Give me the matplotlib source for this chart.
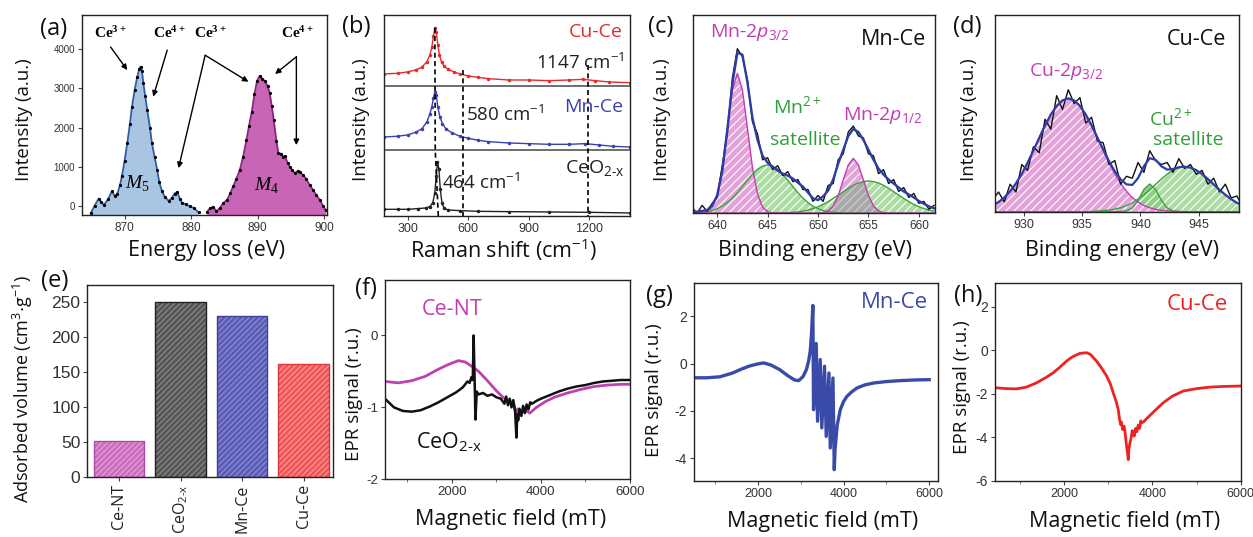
import matplotlib
matplotlib.use('Agg')
import matplotlib.pyplot as plt
import numpy as np

# ---------------- data ----------------
# (a) EELS Ce M5 / M4 edges
m5_ev = [864.9, 865.5, 866.1, 866.5, 866.9, 867.5, 868.1, 868.5, 868.9, 869.3, 869.6, 870.0, 870.4, 870.8,
         871.1, 871.5, 871.9, 872.2, 872.4, 872.6, 872.8, 873.1, 873.4, 873.8, 874.1, 874.5, 874.9, 875.2,
         875.6, 876.0, 876.6, 877.1, 877.5, 877.9, 878.3, 878.6, 879.2, 879.8, 880.4, 881.1]
m5_cnt = [-200, 0, 180, 90, 20, 160, 370, 250, 300, 520, 760, 1150, 1600, 2100,
          2530, 2950, 3300, 3500, 3560, 3450, 3150, 2800, 2450, 2000, 1600, 1250, 910, 600,
          380, 230, 120, 200, 310, 350, 180, 80, 30, -20, -60, -170]
m4_ev = [882.4, 882.8, 883.3, 883.8, 884.3, 884.8, 885.4, 885.9, 886.3, 886.8, 887.3, 887.8, 888.3, 888.7,
         889.1, 889.5, 889.9, 890.3, 890.7, 891.1, 891.5, 891.8, 892.1, 892.4, 892.8, 893.1, 893.5, 893.8,
         894.1, 894.5, 894.8, 895.2, 895.6, 896.0, 896.3, 896.8, 897.3, 897.8, 898.3, 898.8, 899.3, 899.8, 900.2]
m4_cnt = [-160, -70, -30, -150, -60, 60, 150, 330, 490, 690, 910, 1250, 1680, 2050,
          2400, 2850, 3200, 3320, 3250, 3180, 3050, 2880, 2550, 2200, 1650, 1350, 1330, 1250,
          1270, 1080, 1000, 900, 830, 890, 870, 780, 680, 520, 400, 270, 150, 0, -120]

# (b) Raman spectra (stacked, as displayed)
cu_raman_x = [185, 250, 300, 340, 370, 395, 410, 420, 428, 435, 442, 450, 458, 468, 480, 500, 530, 560,
              600, 650, 700, 800, 900, 1000, 1100, 1170, 1230, 1300, 1400]
cu_raman_y = [2.12, 2.13, 2.15, 2.18, 2.22, 2.30, 2.40, 2.52, 2.68, 2.81, 2.74, 2.55, 2.40, 2.30, 2.24, 2.19,
              2.15, 2.12, 2.09, 2.07, 2.05, 2.03, 2.03, 2.02, 2.03, 2.04, 2.02, 2.00, 1.99]
mn_raman_x = [185, 250, 300, 340, 370, 395, 410, 420, 428, 435, 442, 450, 460, 472, 490, 520, 560, 600,
              650, 700, 800, 900, 1000, 1100, 1180, 1250, 1320, 1400]
mn_raman_y = [1.18, 1.19, 1.21, 1.25, 1.30, 1.40, 1.52, 1.63, 1.76, 1.85, 1.80, 1.62, 1.48, 1.38, 1.30, 1.24,
              1.19, 1.16, 1.13, 1.11, 1.09, 1.08, 1.07, 1.07, 1.08, 1.06, 1.04, 1.03]
ce_raman_x = [185, 250, 300, 350, 390, 410, 425, 435, 442, 448, 455, 462, 470, 480, 500, 560, 650, 800,
              1000, 1200, 1400]
ce_raman_y = [0.10, 0.10, 0.10, 0.11, 0.12, 0.14, 0.20, 0.35, 0.60, 0.81, 0.70, 0.40, 0.20, 0.12, 0.09, 0.08,
              0.07, 0.065, 0.06, 0.055, 0.045]

# (c) Mn 2p XPS
be_c = [637.5, 638.0, 638.5, 639.0, 639.5, 640.0, 640.5, 641.0, 641.5, 642.0,
        642.5, 643.0, 643.5, 644.0, 644.5, 645.0, 645.5, 646.0, 646.5, 647.0,
        647.5, 648.0, 648.5, 649.0, 649.5, 650.0, 650.5, 651.0, 651.5, 652.0,
        652.5, 653.0, 653.5, 654.0, 654.5, 655.0, 655.5, 656.0, 656.5, 657.0,
        657.5, 658.0, 658.5, 659.0, 659.5, 660.0, 660.5, 661.0, 661.5]
mn_p32 = [0, 0, 0.002, 0.008, 0.031, 0.096, 0.229, 0.428, 0.623, 0.706,
          0.623, 0.428, 0.229, 0.096, 0.031, 0.008, 0.002, 0, 0, 0,
          0, 0, 0, 0, 0, 0, 0, 0, 0, 0,
          0, 0, 0, 0, 0, 0, 0, 0, 0, 0,
          0, 0, 0, 0, 0, 0, 0, 0, 0]
mn_sat1 = [0.001, 0.002, 0.005, 0.008, 0.014, 0.023, 0.036, 0.054, 0.077, 0.104,
           0.135, 0.167, 0.197, 0.222, 0.238, 0.244, 0.238, 0.222, 0.197, 0.167,
           0.135, 0.104, 0.077, 0.054, 0.036, 0.023, 0.014, 0.008, 0.005, 0.002,
           0.001, 0, 0, 0, 0, 0, 0, 0, 0, 0,
           0, 0, 0, 0, 0, 0, 0, 0, 0]
mn_p12 = [0, 0, 0, 0, 0, 0, 0, 0, 0, 0,
          0, 0, 0, 0, 0, 0, 0, 0, 0, 0,
          0, 0, 0, 0, 0, 0, 0.003, 0.012, 0.037, 0.090,
          0.168, 0.244, 0.277, 0.244, 0.168, 0.090, 0.037, 0.012, 0.003, 0,
          0, 0, 0, 0, 0, 0, 0, 0, 0]
mn_sat2 = [0, 0, 0, 0, 0, 0, 0, 0, 0, 0,
           0, 0, 0, 0, 0, 0, 0, 0.001, 0.002, 0.003,
           0.005, 0.007, 0.011, 0.016, 0.024, 0.033, 0.045, 0.059, 0.075, 0.092,
           0.109, 0.126, 0.141, 0.153, 0.160, 0.163, 0.160, 0.153, 0.141, 0.126,
           0.109, 0.092, 0.075, 0.059, 0.045, 0.033, 0.024, 0.016, 0.011]
mn_fit = [0.005, 0.008, 0.012, 0.016, 0.04, 0.09, 0.21, 0.42, 0.65, 0.81,
          0.80, 0.66, 0.48, 0.37, 0.29, 0.255, 0.235, 0.215, 0.20, 0.19,
          0.175, 0.155, 0.134, 0.105, 0.075, 0.067, 0.085, 0.115, 0.17, 0.25,
          0.32, 0.39, 0.425, 0.41, 0.37, 0.32, 0.27, 0.225, 0.195, 0.17,
          0.15, 0.13, 0.11, 0.095, 0.08, 0.062, 0.048, 0.035, 0.025]
mn_raw = [0.03, 0.0, 0.04, 0.01, 0.05, 0.08, 0.24, 0.40, 0.68, 0.83,
          0.79, 0.67, 0.46, 0.40, 0.27, 0.28, 0.22, 0.24, 0.19, 0.21,
          0.16, 0.17, 0.12, 0.12, 0.06, 0.09, 0.06, 0.14, 0.15, 0.27,
          0.30, 0.41, 0.44, 0.39, 0.38, 0.30, 0.29, 0.20, 0.22, 0.15,
          0.17, 0.11, 0.13, 0.08, 0.10, 0.05, 0.06, 0.02, 0.04]

# (d) Cu 2p XPS
be_d = [927.3, 927.8, 928.3, 928.8, 929.3, 929.8, 930.3, 930.8, 931.3, 931.8,
        932.3, 932.8, 933.3, 933.8, 934.3, 934.8, 935.3, 935.8, 936.3, 936.8,
        937.3, 937.8, 938.3, 938.8, 939.3, 939.8, 940.3, 940.8, 941.3, 941.8,
        942.3, 942.8, 943.3, 943.8, 944.3, 944.8, 945.3, 945.8, 946.3, 946.8,
        947.3, 947.8, 948.3, 948.8]
cu_p32 = [0.032, 0.049, 0.072, 0.104, 0.144, 0.192, 0.249, 0.311, 0.375, 0.438,
          0.494, 0.538, 0.566, 0.576, 0.566, 0.538, 0.494, 0.438, 0.375, 0.311,
          0.249, 0.192, 0.144, 0.104, 0.072, 0.049, 0.032, 0.020, 0.012, 0.007,
          0.004, 0.002, 0.001, 0, 0, 0, 0, 0, 0, 0,
          0, 0, 0, 0]
cu_sat1 = [0, 0, 0, 0, 0, 0, 0, 0, 0, 0,
           0, 0, 0, 0, 0, 0, 0, 0, 0, 0,
           0, 0, 0.001, 0.004, 0.019, 0.058, 0.113, 0.141, 0.113, 0.058,
           0.019, 0.004, 0.001, 0, 0, 0, 0, 0, 0, 0,
           0, 0, 0, 0]
cu_sat2 = [0, 0, 0, 0, 0, 0, 0, 0, 0, 0,
           0, 0, 0, 0, 0, 0, 0, 0.001, 0.003, 0.005,
           0.008, 0.013, 0.020, 0.031, 0.045, 0.064, 0.086, 0.111, 0.139, 0.166,
           0.191, 0.211, 0.224, 0.229, 0.224, 0.211, 0.191, 0.166, 0.139, 0.111,
           0.086, 0.064, 0.045, 0.031]
cu_fit = [0.032, 0.049, 0.072, 0.104, 0.144, 0.192, 0.249, 0.311, 0.375, 0.438,
          0.494, 0.538, 0.566, 0.576, 0.566, 0.538, 0.494, 0.439, 0.378, 0.316,
          0.257, 0.205, 0.165, 0.139, 0.136, 0.171, 0.231, 0.272, 0.264, 0.231,
          0.214, 0.217, 0.226, 0.229, 0.224, 0.211, 0.191, 0.166, 0.139, 0.111,
          0.086, 0.064, 0.045, 0.031]
cu_raw = [0.06, 0.10, 0.05, 0.14, 0.10, 0.24, 0.21, 0.33, 0.30, 0.47,
          0.42, 0.59, 0.52, 0.62, 0.55, 0.58, 0.45, 0.48, 0.36, 0.35,
          0.24, 0.26, 0.14, 0.18, 0.17, 0.25, 0.20, 0.31, 0.26, 0.24,
          0.25, 0.20, 0.27, 0.22, 0.24, 0.19, 0.21, 0.14, 0.17, 0.10,
          0.14, 0.07, 0.08, 0.02]

# (e) adsorbed volume
samples = ['Ce-NT', 'CeO$_{2‐\\mathrm{x}}$', 'Mn-Ce', 'Cu-Ce']
adsorbed = [52, 251, 230, 162]

# (f) EPR Ce-NT and CeO2-x
cent_field = [500, 800, 1100, 1400, 1700, 1900, 2150, 2300, 2450, 2600, 2800, 3000, 3150, 3300, 3400,
              3450, 3480, 3550, 3650, 3750, 3900, 4100, 4300, 4600, 4900, 5200, 5500, 5800, 6000]
cent_sig = [-0.64, -0.66, -0.63, -0.57, -0.47, -0.41, -0.35, -0.37, -0.43, -0.50, -0.63, -0.77, -0.86,
            -0.93, -0.98, -1.12, -1.02, -1.08, -1.04, -1.08, -1.00, -0.92, -0.86, -0.80, -0.75, -0.71,
            -0.69, -0.68, -0.68]
ceo_field = [500, 700, 900, 1100, 1300, 1500, 1700, 1900, 2100, 2250, 2350, 2400, 2440, 2470, 2490, 2510,
             2530, 2560, 2600, 2700, 2800, 2900, 3000, 3100, 3180, 3220, 3260, 3300, 3340, 3380, 3420,
             3450, 3470, 3490, 3520, 3560, 3600, 3640, 3680, 3720, 3760, 3800, 3900, 4000, 4200, 4400,
             4600, 4800, 5000, 5200, 5400, 5600, 5800, 6000]
ceo_sig = [-0.88, -1.00, -1.05, -1.06, -1.04, -0.99, -0.93, -0.86, -0.79, -0.72, -0.64, -0.66, -0.58,
           -0.62, 0.0, -0.55, -1.17, -0.78, -0.82, -0.80, -0.84, -0.82, -0.86, -0.88, -0.95, -0.85,
           -0.97, -0.88, -1.00, -0.90, -1.05, -1.42, -1.10, -1.18, -1.02, -1.12, -0.98, -1.08, -0.96,
           -1.03, -0.93, -0.95, -0.91, -0.88, -0.83, -0.78, -0.74, -0.71, -0.69, -0.66, -0.64, -0.63,
           -0.62, -0.62]

# (g) EPR Mn-Ce
mnce_field = [500, 800, 1100, 1400, 1600, 1800, 2000, 2130, 2300, 2500, 2700, 2850, 2950, 3050, 3130,
              3180, 3220, 3250, 3280, 3296, 3358, 3390, 3452, 3490, 3553, 3593, 3656, 3687, 3750, 3781,
              3800, 3850, 3922, 4000, 4080, 4200, 4315, 4500, 4706, 5000, 5334, 5700, 6000]
mnce_sig = [-0.60, -0.60, -0.56, -0.40, -0.24, -0.10, -0.01, 0.03, -0.06, -0.25, -0.52, -0.69, -0.72,
            -0.55, -0.25, 0.10, 0.55, 1.30, 2.46, -1.95, 0.85, -2.44, 0.17, -2.72, -0.11, -3.08, -0.40,
            -3.57, -0.61, -4.49, -3.60, -2.60, -1.95, -1.60, -1.38, -1.18, -1.03, -0.90, -0.82, -0.76,
            -0.72, -0.69, -0.68]

# (h) EPR Cu-Ce
cuce_field = [440, 700, 930, 1150, 1382, 1600, 1758, 1900, 2061, 2200, 2362, 2513, 2600, 2740, 2850,
              2966, 3050, 3115, 3180, 3229, 3260, 3282, 3300, 3330, 3360, 3380, 3400, 3418, 3440, 3455,
              3470, 3493, 3520, 3545, 3568, 3590, 3620, 3650, 3680, 3710, 3740, 3758, 3800, 3870, 3946,
              4100, 4247, 4450, 4699, 5000, 5303, 5600, 6000]
cuce_sig = [-1.73, -1.77, -1.78, -1.70, -1.50, -1.25, -1.04, -0.80, -0.50, -0.30, -0.15, -0.12, -0.20,
            -0.51, -0.82, -1.19, -1.55, -1.96, -2.35, -2.73, -3.20, -3.42, -3.30, -3.65, -3.50, -3.72,
            -4.10, -4.41, -4.75, -5.03, -4.55, -4.26, -4.05, -3.70, -3.80, -3.95, -3.60, -3.75, -3.45,
            -3.60, -3.25, -3.34, -3.30, -3.15, -3.00, -2.70, -2.42, -2.12, -1.88, -1.77, -1.70, -1.67,
            -1.65]

# ---------------- style ----------------
W, H = 1253, 537
plt.rcParams['font.family'] = ['Open Sans', 'DejaVu Sans']
plt.rcParams['axes.unicode_minus'] = False
plt.rcParams['mathtext.fontset'] = 'custom'
plt.rcParams['mathtext.rm'] = 'Open Sans'
plt.rcParams['mathtext.it'] = 'Open Sans:italic'
plt.rcParams['mathtext.bf'] = 'Liberation Serif:bold'
plt.rcParams['mathtext.cal'] = 'Liberation Serif:italic'
plt.rcParams['mathtext.tt'] = 'Liberation Serif'
plt.rcParams['mathtext.fallback'] = 'stixsans'
plt.rcParams['hatch.linewidth'] = 0.8

fig = plt.figure(figsize=(W / 100, H / 100), dpi=100)


def add_ax(l, r, t, b):
    return fig.add_axes([l / W, 1 - b / H, (r - l) / W, (b - t) / H])


def ftext(px, py, s, **kw):
    kw.setdefault('ha', 'center')
    kw.setdefault('va', 'center')
    fig.text(px / W, 1 - py / H, s, **kw)


def style(ax, fsx=9, fsy=9):
    for s in ax.spines.values():
        s.set_linewidth(1.0)
        s.set_color('#222222')
    ax.tick_params(direction='out', length=3, width=0.8, color='#444444',
                   labelcolor='#333333', pad=2, labelfontfamily='Liberation Sans')
    ax.tick_params(axis='x', labelsize=fsx)
    ax.tick_params(axis='y', labelsize=fsy)


XL = 15.5   # x-label size
YL = 13.5   # y-label size
PL = 17     # panel letter size
CEOX = 'CeO$_{2‐\\mathrm{x}}$'

PINK_F, PINK_L = '#e3a3da', '#c23cb2'
GREEN_F, GREEN_L = '#acdca4', '#3aa33a'
FIT = '#2c3ea6'

# ---------------- (a) ----------------
axA = add_ax(82, 327, 15, 215)
axA.fill_between(m5_ev, m5_cnt, -240, color='#a9c5e2', lw=0)
axA.plot(m5_ev, m5_cnt, color='#2e5ea6', lw=1.3)
axA.plot(m5_ev, m5_cnt, ls='none', marker='o', ms=1.3, color='k')
axA.fill_between(m4_ev, m4_cnt, -240, color='#c865b6', lw=0)
axA.plot(m4_ev, m4_cnt, color='#86267f', lw=1.3)
axA.plot(m4_ev, m4_cnt, ls='none', marker='o', ms=1.3, color='k')
axA.set_xlim(863.6, 900.4)
axA.set_ylim(-240, 4880)
axA.set_xticks([870, 880, 890, 900])
axA.set_yticks([0, 1000, 2000, 3000, 4000])
style(axA, 8.5, 7)

ap = dict(arrowstyle='-|>', color='k', lw=1.0, mutation_scale=8, shrinkA=0, shrinkB=0)
for start, end in [((867.9, 4060), (870.4, 3470)), ((876.4, 3980), (874.3, 2790)),
                   ((882.1, 3850), (888.6, 3170)), ((882.1, 3850), (878.1, 960)),
                   ((895.8, 3810), (892.6, 3370)), ((895.8, 3810), (895.8, 1550))]:
    axA.annotate('', xy=end, xytext=start, arrowprops=ap)
for xt, s in [(867.9, '$\\mathbf{Ce^{3+}}$'), (876.7, '$\\mathbf{Ce^{4+}}$'),
              (882.9, '$\\mathbf{Ce^{3+}}$'), (895.9, '$\\mathbf{Ce^{4+}}$')]:
    axA.text(xt, 4390, s, ha='center', va='center', fontsize=11)
axA.text(872.0, 580, '$\\mathcal{M}_{\\mathtt{5}}$', ha='center', va='center', fontsize=14)
axA.text(891.3, 530, '$\\mathcal{M}_{\\mathtt{4}}$', ha='center', va='center', fontsize=14)

# ---------------- (b) ----------------
axB = add_ax(384, 630, 15, 216)
axB.plot(cu_raman_x, cu_raman_y, color='#e52b2b', lw=1.0, marker='o', ms=1.5)
axB.plot(mn_raman_x, mn_raman_y, color='#3b3fb0', lw=1.0, marker='o', ms=1.5)
axB.plot(ce_raman_x, ce_raman_y, color='#222222', lw=1.0, marker='o', ms=1.5)
axB.axhline(0.985, color='#555555', lw=1.2)
axB.axhline(1.94, color='#555555', lw=1.2)
axB.plot([435, 437, 452], [2.81, 0.98, 0.0], ls='--', color='k', lw=1.2, dashes=(3, 2))
axB.plot([573, 573], [2.18, 0.0], ls='--', color='k', lw=1.2, dashes=(3, 2))
axB.plot([1192, 1192], [2.25, 0.0], ls='--', color='k', lw=1.2, dashes=(3, 2))
axB.set_xlim(183, 1402)
axB.set_ylim(0, 3)
axB.set_xticks([300, 600, 900, 1200])
axB.set_yticks([])
style(axB, 9, 9)
axB.text(1367, 2.75, 'Cu-Ce', color='#e52b2b', ha='right', va='center', fontsize=14)
axB.text(1375, 2.28, '1147 cm$^{-1}$', color='#222222', ha='right', va='center', fontsize=13.5)
axB.text(1367, 1.62, 'Mn-Ce', color='#3b3fb0', ha='right', va='center', fontsize=14)
axB.text(588, 1.51, '580 cm$^{-1}$', color='#222222', ha='left', va='center', fontsize=13.5)
axB.text(1375, 0.72, CEOX, color='#222222', ha='right', va='center', fontsize=14)
axB.text(472, 0.50, '464 cm$^{-1}$', color='#222222', ha='left', va='center', fontsize=13.5)

# ---------------- (c) ----------------
axC = add_ax(693, 935, 15, 213.3)
axC.fill_between(be_c, mn_sat1, 0, facecolor=GREEN_F, edgecolor='white', hatch='////', lw=0)
axC.fill_between(be_c, mn_sat2, 0, facecolor=GREEN_F, edgecolor='white', hatch='////', lw=0)
axC.fill_between(be_c, mn_p32, 0, facecolor=PINK_F, edgecolor='white', hatch='////', lw=0)
axC.fill_between(be_c, mn_p12, 0, facecolor=PINK_F, edgecolor='white', hatch='////', lw=0)
axC.fill_between(be_c, np.minimum(mn_p12, mn_sat2), 0, facecolor='#a8a8a8', edgecolor='#d0d0d0',
                 hatch='////', lw=0)
axC.plot(be_c, mn_sat1, color=GREEN_L, lw=1.0)
axC.plot(be_c, mn_sat2, color=GREEN_L, lw=1.0)
axC.plot(be_c, mn_p32, color=PINK_L, lw=1.0)
axC.plot(be_c, mn_p12, color=PINK_L, lw=1.0)
axC.plot(be_c, mn_raw, color='#111111', lw=1.0)
axC.plot(be_c, mn_fit, color=FIT, lw=1.7)
axC.set_xlim(637.6, 661.6)
axC.set_ylim(0, 1)
axC.set_xticks([640, 645, 650, 655, 660])
axC.set_yticks([])
style(axC, 8.5, 8.5)
axC.text(639.3, 0.914, 'Mn-2$p_{3/2}$', color='#c23cb2', ha='left', va='center', fontsize=14)
axC.text(660.7, 0.874, 'Mn-Ce', color='#111111', ha='right', va='center', fontsize=15.5)
axC.text(648.0, 0.54, 'Mn$^{2+}$', color='#2f9e3a', ha='center', va='center', fontsize=14)
axC.text(648.7, 0.37, 'satellite', color='#2f9e3a', ha='center', va='center', fontsize=14)
axC.text(652.5, 0.495, 'Mn-2$p_{1/2}$', color='#c23cb2', ha='left', va='center', fontsize=14)

# ---------------- (d) ----------------
axD = add_ax(995, 1239.3, 15, 211.7)
axD.fill_between(be_d, cu_sat2, 0, facecolor=GREEN_F, edgecolor='white', hatch='////', lw=0)
axD.fill_between(be_d, cu_sat1, 0, facecolor='#8fcf86', edgecolor='white', hatch='////', lw=0)
axD.fill_between(be_d, cu_p32, 0, facecolor=PINK_F, edgecolor='white', hatch='////', lw=0)
axD.plot(be_d, cu_sat2, color=GREEN_L, lw=1.0)
axD.plot(be_d, cu_sat1, color=GREEN_L, lw=1.0)
axD.plot(be_d, cu_p32, color=PINK_L, lw=1.0)
axD.plot(be_d, cu_raw, color='#111111', lw=1.0)
axD.plot(be_d, cu_fit, color=FIT, lw=1.6)
axD.set_xlim(927.5, 948.5)
axD.set_ylim(0, 1)
axD.set_xticks([930, 935, 940, 945])
axD.set_yticks([])
style(axD, 9, 9)
axD.text(947.4, 0.873, 'Cu-Ce', color='#111111', ha='right', va='center', fontsize=15.5)
axD.text(933.6, 0.712, 'Cu-2$p_{3/2}$', color='#c23cb2', ha='center', va='center', fontsize=14)
axD.text(942.6, 0.475, 'Cu$^{2+}$', color='#2f9e3a', ha='center', va='center', fontsize=14)
axD.text(944.1, 0.365, 'satellite', color='#2f9e3a', ha='center', va='center', fontsize=14)

# ---------------- (e) ----------------
axE = add_ax(87.3, 333, 285, 477.3)
pos = np.arange(len(samples))
faces = ['#cc6cbd', '#565656', '#5a5cb6', '#ef5656']
hatchc = ['#e6a2de', '#8c8c8c', '#8e90d6', '#ff9a9a']
edges = ['#b048a4', '#222222', '#3d3f9e', '#d83a3a']
for i in range(len(samples)):
    axE.bar(pos[i], adsorbed[i], width=0.82, color=faces[i], edgecolor=hatchc[i], hatch='//////', lw=0)
    axE.bar(pos[i], adsorbed[i], width=0.82, fill=False, edgecolor=edges[i], lw=1.0)
axE.set_xlim(-0.52, 3.48)
axE.set_ylim(0, 275)
axE.set_yticks([0, 50, 100, 150, 200, 250])
axE.set_xticks(pos)
style(axE, 12, 12.5)
axE.set_xticklabels(samples, rotation=90, fontsize=11.5, color='#222222',
                    family=['Open Sans', 'DejaVu Sans'])

# ---------------- (f) ----------------
axF = add_ax(385, 630, 280, 479.3)
axF.plot(cent_field, cent_sig, color='#c040b0', lw=2.0)
axF.plot(ceo_field, ceo_sig, color='#111111', lw=1.8)
axF.set_xlim(500, 6000)
axF.set_ylim(-2, 0.77)
axF.set_xticks([2000, 4000, 6000])
axF.set_xticks([1000, 3000, 5000], minor=True)
axF.set_yticks([-2, -1, 0])
style(axF, 9.5, 9.5)
axF.tick_params(which='minor', length=2, width=0.6, color='#666666')
axF.text(2000, 0.357, 'Ce-NT', color='#c040b0', ha='center', va='center', fontsize=15.5)
axF.text(1927, -1.49, CEOX, color='#111111', ha='center', va='center', fontsize=15.5)

# ---------------- (g) ----------------
axG = add_ax(694, 937.7, 283.3, 481)
axG.plot(mnce_field, mnce_sig, color='#3a4aa8', lw=2.4)
axG.set_xlim(500, 6200)
axG.set_ylim(-4.97, 3.4)
axG.set_xticks([2000, 4000, 6000])
axG.set_xticks([1000, 3000, 5000], minor=True)
axG.set_yticks([-4, -2, 0, 2])
style(axG, 9, 10)
axG.tick_params(which='minor', length=2, width=0.6, color='#666666')
axG.text(5969, 2.58, 'Mn-Ce', color='#3a4aa8', ha='right', va='center', fontsize=16)

# ---------------- (h) ----------------
axH = add_ax(995, 1240.7, 283.3, 480.7)
axH.plot(cuce_field, cuce_sig, color='#ee2222', lw=2.0)
axH.set_xlim(440, 6000)
axH.set_ylim(-6, 3.07)
axH.set_xticks([2000, 4000, 6000])
axH.set_xticks([1000, 3000, 5000], minor=True)
axH.set_yticks([-6, -4, -2, 0, 2])
style(axH, 9, 10)
axH.tick_params(which='minor', length=2, width=0.6, color='#666666')
axH.text(5710, 2.10, 'Cu-Ce', color='#ee2222', ha='right', va='center', fontsize=16)

# ---------------- axis labels and panel letters ----------------
for px, py, s in [(207, 250, 'Energy loss (eV)'), (504, 250, 'Raman shift (cm$^{-1}$)'),
                  (815, 250, 'Binding energy (eV)'), (1122, 250, 'Binding energy (eV)'),
                  (511, 520, 'Magnetic field (mT)'), (823, 522, 'Magnetic field (mT)'),
                  (1125, 522, 'Magnetic field (mT)')]:
    ftext(px, py, s, fontsize=XL, color='#111111')
for px, py, s in [(24, 120, 'Intensity (a.u.)'), (361, 120, 'Intensity (a.u.)'),
                  (662, 120, 'Intensity (a.u.)'), (969, 120, 'Intensity (a.u.)'),
                  (354, 394, 'EPR signal (r.u.)'), (654, 390, 'EPR signal (r.u.)'),
                  (962, 387, 'EPR signal (r.u.)')]:
    ftext(px, py, s, fontsize=YL, rotation=90, color='#111111')
ftext(23, 389, 'Adsorbed volume (cm$^3$$\\cdot$g$^{-1}$)', fontsize=13, rotation=90, color='#111111')
for px, py, s in [(54, 29, '(a)'), (356, 27, '(b)'), (661, 27, '(c)'), (967, 27, '(d)'),
                  (55, 281, '(e)'), (366, 289, '(f)'), (659, 296, '(g)'), (968, 296, '(h)')]:
    ftext(px, py, s, fontsize=PL, color='#111111')

fig.savefig('out.png', dpi=100)
